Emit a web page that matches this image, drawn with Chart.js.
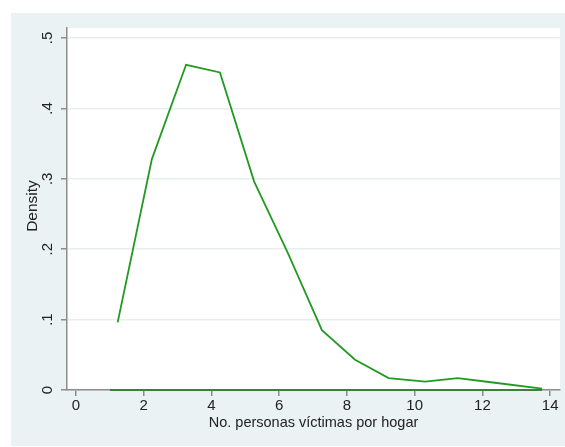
<!DOCTYPE html>
<html>
<head>
<meta charset="utf-8">
<script src="https://cdn.jsdelivr.net/npm/chart.js@4.4.1/dist/chart.umd.min.js"></script>
<style>
  body { margin: 0; background: #fff; }
  #panel { position: absolute; left: 11px; top: 13px; width: 554px; height: 433px; background: #eaf2f3; }
  #wrap { position: absolute; left: 0; top: 0; width: 565px; height: 447px; }
</style>
</head>
<body>
<div id="panel"></div>
<div id="wrap"><canvas id="densityChart" width="565" height="447"></canvas></div>
<script>
// values
const victims = [1.23, 2.24, 3.25, 4.25, 5.26, 6.25, 7.26, 8.24, 9.23, 10.31, 11.27, 12.25, 13.76];
const density = [0.096, 0.328, 0.462, 0.451, 0.296, 0.195, 0.085, 0.043, 0.017, 0.012, 0.017, 0.011, 0.002];
const baseX = [1.0, 13.76];
const baseY = [0, 0];
const xTicks = [0, 2, 4, 6, 8, 10, 12, 14];
const yTicks = [0, 0.1, 0.2, 0.3, 0.4, 0.5];
const yTickLabels = ['0', '.1', '.2', '.3', '.4', '.5'];

const FONT = '"Liberation Sans", Arial, sans-serif';

// white plot region + rotated y labels, titles
const stataLook = {
    id: 'stataLook',
    beforeDraw(chart) {
        const a = chart.chartArea;
        const ctx = chart.ctx;
        ctx.save();
        ctx.fillStyle = '#ffffff';
        ctx.fillRect(a.left, a.top, a.right - a.left, a.bottom - a.top);
        ctx.restore();
    },
    afterDraw(chart) {
        const ctx = chart.ctx;
        const y = chart.scales.y;
        const a = chart.chartArea;
        ctx.save();
        ctx.fillStyle = '#222';
        ctx.textAlign = 'center';
        ctx.textBaseline = 'middle';
        ctx.font = '15px ' + FONT;
        yTicks.forEach((v, i) => {
            const py = y.getPixelForValue(v);
            ctx.save();
            ctx.translate(48, py);
            ctx.rotate(-Math.PI / 2);
            ctx.fillText(yTickLabels[i], 0, 0);
            ctx.restore();
        });
        // y title
        ctx.save();
        ctx.font = '15.5px ' + FONT;
        ctx.translate(33, 206);
        ctx.rotate(-Math.PI / 2);
        ctx.fillText('Density', 0, 0);
        ctx.restore();
        // x title
        ctx.font = '14.5px ' + FONT;
        ctx.fillText('No. personas víctimas por hogar', (a.left + a.right) / 2, 423);
        ctx.restore();
    }
};

new Chart('densityChart', {
    type: 'line',
    data: {
        datasets: [{
            data: victims.map((v, i) => ({ x: v, y: density[i] })),
            borderColor: '#229a22',
            borderWidth: 1.8,
            pointRadius: 0,
            tension: 0,
            fill: false,
            clip: false
        }, {
            data: baseX.map((v, i) => ({ x: v, y: baseY[i] })),
            borderColor: '#3e7f3e',
            borderWidth: 2,
            pointRadius: 0,
            fill: false,
            clip: false
        }]
    },
    options: {
        responsive: false,
        animation: false,
        layout: { padding: { top: 28, right: 5, left: 0, bottom: 0 } },
        plugins: {
            legend: { display: false },
            tooltip: { enabled: false }
        },
        scales: {
            x: {
                type: 'linear',
                min: -0.266,
                max: 14.29,
                afterBuildTicks: (s) => { s.ticks = xTicks.map(v => ({ value: v })); },
                afterFit: (s) => { s.height = 57; },
                grid: { color: 'rgba(0,0,0,0)', tickColor: '#8c8c8c', tickLength: 6, lineWidth: 1.5 },
                border: { color: '#8c8c8c', width: 1.5 },
                ticks: { color: '#222', font: { family: FONT, size: 15 }, padding: 1, maxRotation: 0, autoSkip: false }
            },
            y: {
                min: 0,
                max: 0.5142,
                afterBuildTicks: (s) => { s.ticks = yTicks.map(v => ({ value: v })); },
                afterFit: (s) => { s.width = 67; },
                grid: { color: '#e6eef0', tickColor: '#8c8c8c', tickLength: 6, lineWidth: 1.5 },
                border: { color: '#8c8c8c', width: 1.5 },
                ticks: { color: 'rgba(0,0,0,0)', font: { family: FONT, size: 15 } }
            }
        }
    },
    plugins: [stataLook]
});
</script>
</body>
</html>
